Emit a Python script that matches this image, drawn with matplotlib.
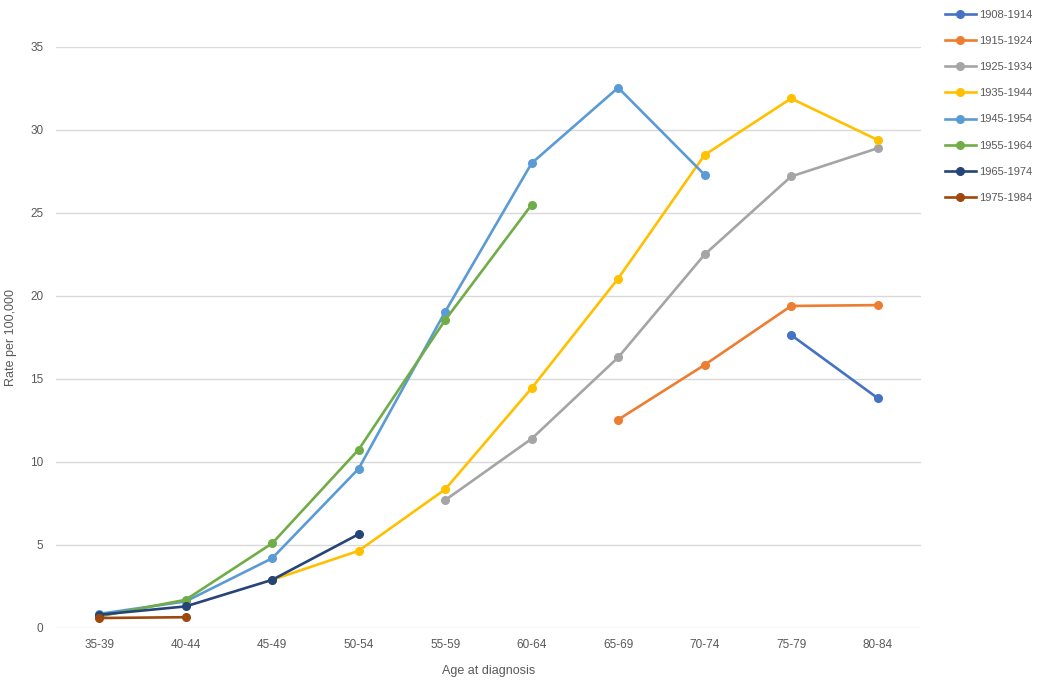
import numpy as np
import matplotlib
matplotlib.use("Agg")
import matplotlib.pyplot as plt

ages = ["35-39", "40-44", "45-49", "50-54", "55-59", "60-64", "65-69", "70-74", "75-79", "80-84"]
nan = np.nan

c1908 = [nan, nan, nan, nan, nan, nan, nan, nan, 17.65, 13.85]
c1915 = [nan, nan, nan, nan, nan, nan, 12.55, 15.85, 19.4, 19.45]
c1925 = [nan, nan, nan, nan, 7.7, 11.4, 16.3, 22.5, 27.2, 28.9]
c1935 = [nan, nan, 2.9, 4.65, 8.35, 14.45, 21.05, 28.5, 31.9, 29.4]
c1945 = [0.85, 1.6, 4.2, 9.6, 19.05, 28.0, 32.55, 27.3, nan, nan]
c1955 = [0.7, 1.7, 5.1, 10.75, 18.55, 25.5, nan, nan, nan, nan]
c1965 = [0.8, 1.3, 2.9, 5.65, nan, nan, nan, nan, nan, nan]
c1975 = [0.6, 0.65, nan, nan, nan, nan, nan, nan, nan, nan]

cohorts = ["1908-1914", "1915-1924", "1925-1934", "1935-1944",
           "1945-1954", "1955-1964", "1965-1974", "1975-1984"]
series = [c1908, c1915, c1925, c1935, c1945, c1955, c1965, c1975]
colors = ["#4472C4", "#ED7D31", "#A5A5A5", "#FFC000",
          "#5B9BD5", "#70AD47", "#264478", "#9E480E"]

plt.rcParams['font.family'] = ['Liberation Sans', 'DejaVu Sans']
txt = "#595959"

fig = plt.figure(figsize=(10.5, 6.87), dpi=100)
ax = fig.add_axes([0.0533, 0.0859, 0.8237, 0.8457])

x = np.arange(len(ages))
for name, vals, col in zip(cohorts, series, colors):
    ax.plot(x, vals, color=col, lw=1.9, marker="o", ms=5.5, label=name, zorder=3)

ax.set_xlim(-0.5, len(ages) - 0.5)
ax.set_ylim(0, 35)
ax.set_yticks(range(0, 36, 5))
ax.set_xticks(x)
ax.set_xticklabels(ages)
ax.grid(axis="y", color="#d9d9d9", lw=1)
ax.set_axisbelow(True)
for s in ax.spines.values():
    s.set_visible(False)
ax.tick_params(length=0, colors=txt, labelsize=8.5, pad=8)
ax.tick_params(axis="y", pad=9)
ax.set_xlabel("Age at diagnosis", color=txt, fontsize=9, labelpad=10)
ax.set_ylabel("Rate per 100,000", color=txt, fontsize=9)
ax.yaxis.set_label_coords(-0.045, 0.5)

leg = fig.legend(loc="upper left", bbox_to_anchor=(0.89, 1.0), frameon=False,
                 fontsize=8, labelspacing=1.45, handlelength=2.8, handletextpad=0.3)
for t in leg.get_texts():
    t.set_color(txt)

fig.savefig("out.png", dpi=100)
